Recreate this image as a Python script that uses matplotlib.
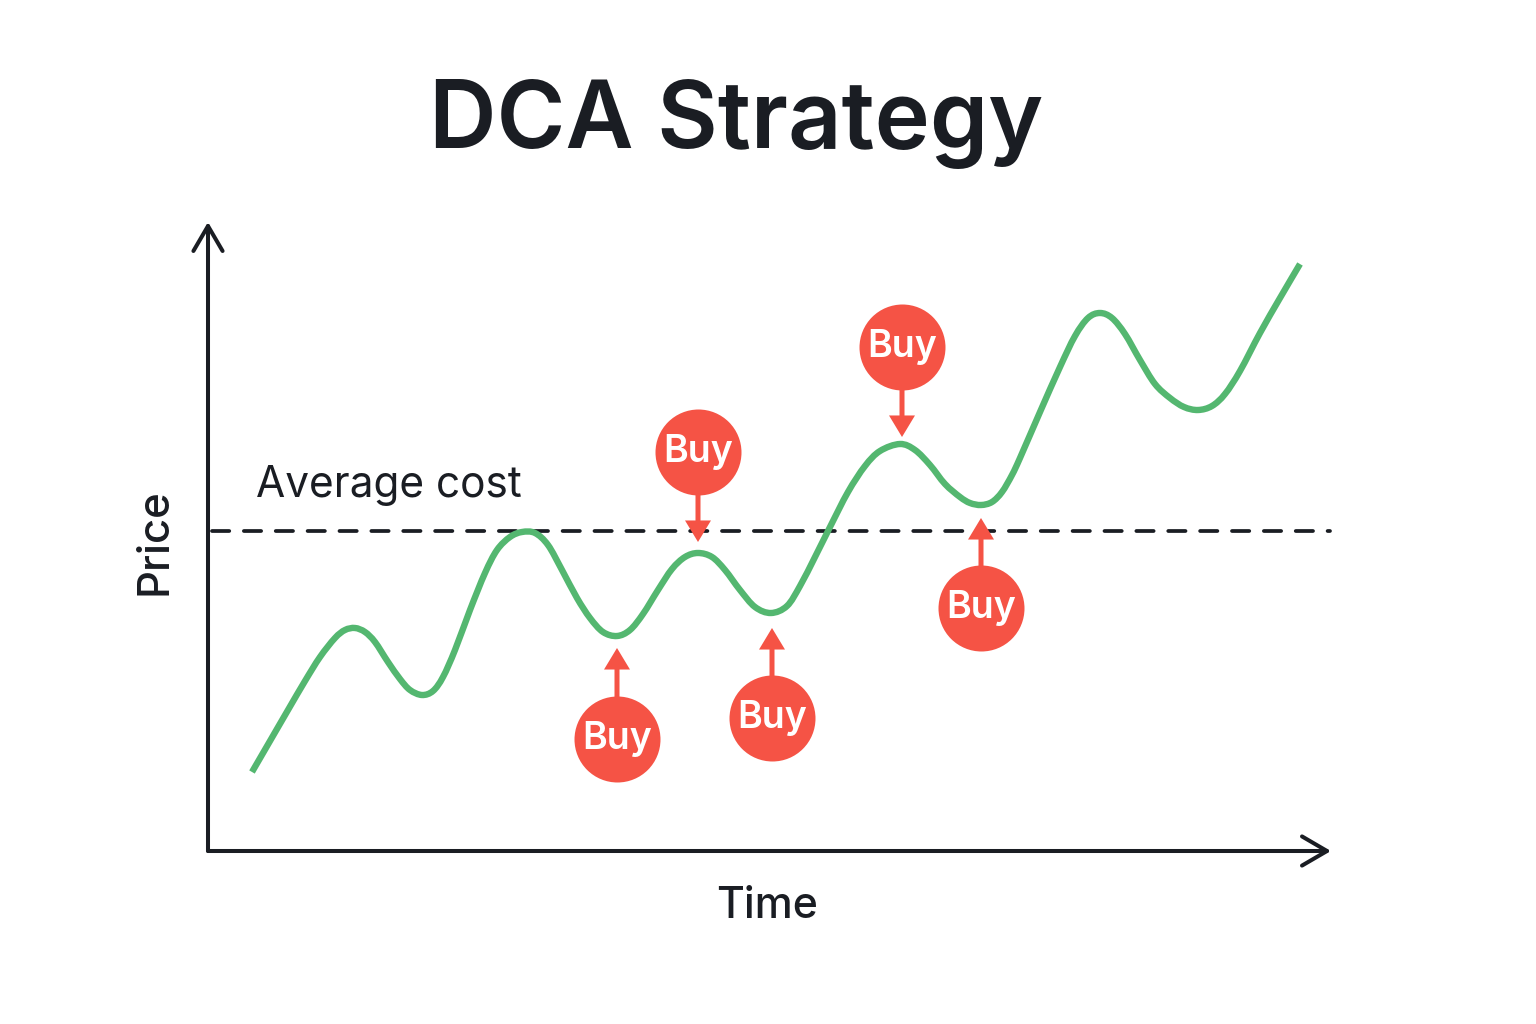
import matplotlib
matplotlib.use("Agg")
import matplotlib.pyplot as plt
from matplotlib.path import Path
from matplotlib.patches import PathPatch

# Chart data: time and price in axis units (origin at the corner of the axes)
time_values = [44,62,80,97,112,127,137,147,157,167,180,192,202,214,225,235,247,262,277,289,302,314,327,340,354,369,382,395,409,422,435,450,464,477,490,504,517,532,547,563,579,592,607,622,640,657,672,692,707,722,737,752,762,773,784,794,804,812,832,852,867,880,892,904,917,932,947,962,976,990,1004,1017,1032,1052,1072,1092]
price_values = [79,110,141,170,194,213,221,223,219,209,189,172,161,156,160,174,201,241,278,301,314,319,318,306,281,253,233,219,215,221,237,261,282,294,298,294,281,261,244,238,245,265,294,324,359,385,400,407,401,386,367,354,348,346,349,359,376,393,439,484,515,533,538,533,517,491,467,453,444,441,445,457,480,518,553,587]
avg_cost = 320
buy_times = [409, 490, 564, 694, 773]
buy_tip_prices = [203, 309, 223, 414, 333]
buy_labels = ["Buy", "Buy", "Buy", "Buy", "Buy"]
buy_circle_prices = [112, 399, 133, 504, 243]
title = "DCA Strategy"
xlabel = "Time"
ylabel = "Price"
avg_label = "Average cost"

GREEN = "#54b770"
RED = "#f55345"
INK = "#1a1d23"

plt.rcParams["font.family"] = ["Inter", "DejaVu Sans"]
fig = plt.figure(figsize=(15.36, 10.24), dpi=100, facecolor="white")
W, H = 1536, 1024
ax = fig.add_axes([208 / W, 1 - 851 / H, 1120 / W, 623 / H])
ax.set_xlim(0, 1120)
ax.set_ylim(0, 623)
ax.axis("off")

# axes with open arrow heads
head = "->,head_length=1.8,head_width=1.05"
ax.annotate("", xy=(1123, 0), xytext=(0, 0), annotation_clip=False,
            arrowprops=dict(arrowstyle=head, lw=2.9, color=INK, shrinkA=0, shrinkB=0, capstyle="round"))
ax.annotate("", xy=(0, 629), xytext=(0, 0), annotation_clip=False,
            arrowprops=dict(arrowstyle=head, lw=2.9, color=INK, shrinkA=0, shrinkB=0, capstyle="round"))

ax.plot([4, 1122], [avg_cost, avg_cost], color=INK, lw=2.7, dashes=(4.6, 3.9),
        dash_capstyle="round", zorder=2, clip_on=False)

# smooth curve through the read points, drawn as cubic Bezier segments
pts = list(zip(time_values, price_values))
verts = [pts[0]]
codes = [Path.MOVETO]
for i in range(len(pts) - 1):
    p0 = pts[max(i - 1, 0)]
    p1 = pts[i]
    p2 = pts[i + 1]
    p3 = pts[min(i + 2, len(pts) - 1)]
    c1 = (p1[0] + (p2[0] - p0[0]) / 6, p1[1] + (p2[1] - p0[1]) / 6)
    c2 = (p2[0] - (p3[0] - p1[0]) / 6, p2[1] - (p3[1] - p1[1]) / 6)
    verts += [c1, c2, p2]
    codes += [Path.CURVE4] * 3
ax.add_patch(PathPatch(Path(verts, codes), fill=False, edgecolor=GREEN, lw=4.6,
                       capstyle="butt", joinstyle="round", zorder=3))

for t, tip, cp, lab in zip(buy_times, buy_tip_prices, buy_circle_prices, buy_labels):
    ax.scatter([t], [cp], s=(86 * 0.72) ** 2, color=RED, linewidths=0, zorder=5)
    ax.annotate("", xy=(t, tip), xytext=(t, cp), zorder=4,
                arrowprops=dict(width=3.6, headwidth=18.7, headlength=15.5, lw=0, color=RED, shrink=0))
    ax.text(t, cp, lab, color="white", fontsize=27, fontweight="semibold",
            ha="center", va="center", zorder=6)

fig.text(736 / W, 1 - 124 / H, title, fontsize=67.3, fontweight="semibold", color=INK, ha="center", va="center")
fig.text(767 / W, 1 - 907 / H, xlabel, fontsize=30.8, fontweight="medium", color=INK, ha="center", va="center")
fig.text(155 / W, 1 - 542 / H, ylabel, fontsize=31.5, fontweight="medium", color=INK, ha="center", va="center", rotation=90)
fig.text(389 / W, 1 - 486 / H, avg_label, fontsize=30.5, color=INK, ha="center", va="center")

fig.savefig("out.png", dpi=100, facecolor="white")
